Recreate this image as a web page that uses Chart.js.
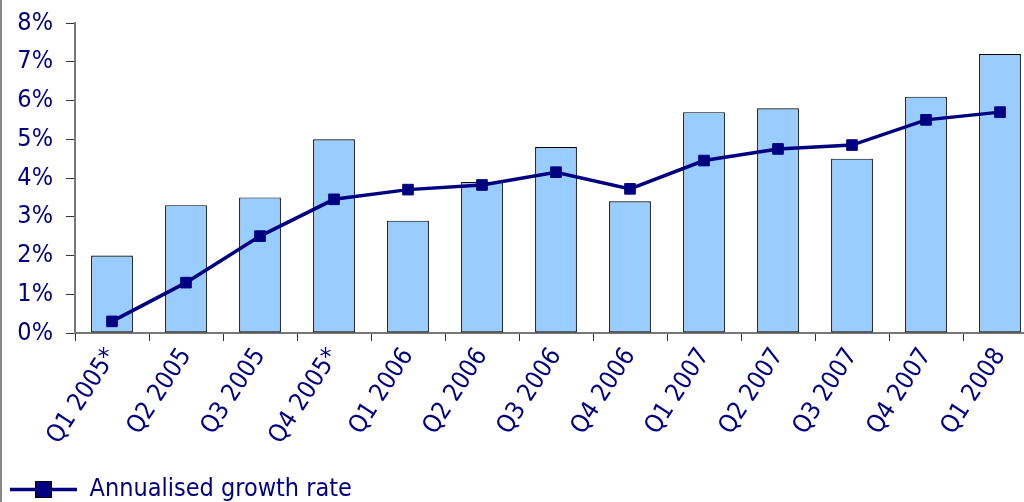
<!DOCTYPE html>
<html>
<head>
<meta charset="utf-8">
<script src="https://cdn.jsdelivr.net/npm/chart.js@4"></script>
<style>
html,body{margin:0;padding:0;background:#fff;overflow:hidden;}
#wrap{position:relative;width:1024px;height:502px;border-left:2px solid #888;box-sizing:border-box;overflow:hidden;}
</style>
</head>
<body>
<div id="wrap"><canvas id="c" width="1035" height="502"></canvas></div>
<script>
const categories = ["Q1 2005*","Q2 2005","Q3 2005","Q4 2005*","Q1 2006","Q2 2006","Q3 2006","Q4 2006","Q1 2007","Q2 2007","Q3 2007","Q4 2007","Q1 2008"];
const quarterlyValues = [2.0,3.3,3.5,5.0,2.9,3.9,4.8,3.4,5.7,5.8,4.5,6.1,7.2];
const annualisedValues = [0.3,1.3,2.5,3.45,3.7,3.82,4.15,3.72,4.45,4.75,4.85,5.5,5.7];
const yTicks = [0,1,2,3,4,5,6,7,8];

const navy = '#000080';
const fontFamily = '"DejaVu Sans Condensed", "DejaVu Sans", sans-serif';

new Chart(document.getElementById('c'), {
  data: {
    labels: categories,
    datasets: [
      {
        type: 'line',
        label: 'Annualised growth rate',
        data: annualisedValues,
        borderColor: navy,
        backgroundColor: navy,
        borderWidth: 3.5,
        pointStyle: 'rect',
        pointRadius: 7.5,
        pointHoverRadius: 7.5,
        pointBorderWidth: 1,
        pointBorderColor: navy,
        tension: 0,
        clip: false,
        order: 0
      },
      {
        type: 'bar',
        label: 'Quarterly',
        data: quarterlyValues,
        backgroundColor: '#99CCFF',
        borderColor: '#000000',
        borderWidth: 1.2,
        borderSkipped: false,
        categoryPercentage: 1,
        barPercentage: 0.565,
        order: 1
      }
    ]
  },
  options: {
    responsive: false,
    animation: false,
    devicePixelRatio: 1,
    layout: { autoPadding: false, padding: { left: 6, right: 0, top: 23, bottom: -10 } },
    plugins: {
      tooltip: { enabled: false },
      legend: {
        position: 'bottom',
        align: 'start',
        labels: {
          padding: 2,
          boxWidth: 67,
          boxHeight: 0,
          color: navy,
          font: { family: fontFamily, size: 25 },
          generateLabels: (chart) => {
            const ds = chart.data.datasets[0];
            return [{ text: ds.label, fillStyle: navy, strokeStyle: navy, lineWidth: 3.5, fontColor: navy, datasetIndex: 0 }];
          }
        }
      }
    },
    scales: {
      x: {
        offset: true,
        afterFit: (axis) => { axis.height = 142; axis.paddingRight = 0; axis.paddingLeft = 0; },
        grid: { display: true, drawOnChartArea: false, offset: true, tickLength: 8, color: '#333', lineWidth: 1 },
        border: { display: true, color: '#777', width: 2 },
        ticks: { color: navy, font: { family: fontFamily, size: 25 }, minRotation: 57, maxRotation: 57, autoSkip: false, padding: 2 }
      },
      y: {
        min: 0, max: 8,
        afterFit: (axis) => { axis.width = 67; axis.paddingTop = 0; axis.paddingBottom = 0; },
        afterBuildTicks: (axis) => { axis.ticks = yTicks.map(v => ({ value: v })); },
        grid: { display: true, drawOnChartArea: false, tickLength: 9, color: '#333', lineWidth: 1 },
        border: { display: true, color: '#777', width: 2 },
        ticks: { color: navy, font: { family: fontFamily, size: 25 }, padding: 13, callback: (v) => v + '%' }
      }
    }
  },
  plugins: [{
    id: 'legendMarker',
    afterDraw(chart) {
      const lg = chart.legend;
      if (!lg || !lg.legendHitBoxes || !lg.legendHitBoxes.length) return;
      const hb = lg.legendHitBoxes[0];
      const ctx = chart.ctx;
      const cx = hb.left + 33.5;
      const cy = hb.top + hb.height / 2;
      ctx.save();
      ctx.fillStyle = navy;
      ctx.fillRect(cx - 8, cy - 8, 16, 16);
      ctx.strokeStyle = '#000';
      ctx.lineWidth = 1;
      ctx.strokeRect(cx - 8, cy - 8, 16, 16);
      ctx.restore();
    }
  }]
});
</script>
</body>
</html>
